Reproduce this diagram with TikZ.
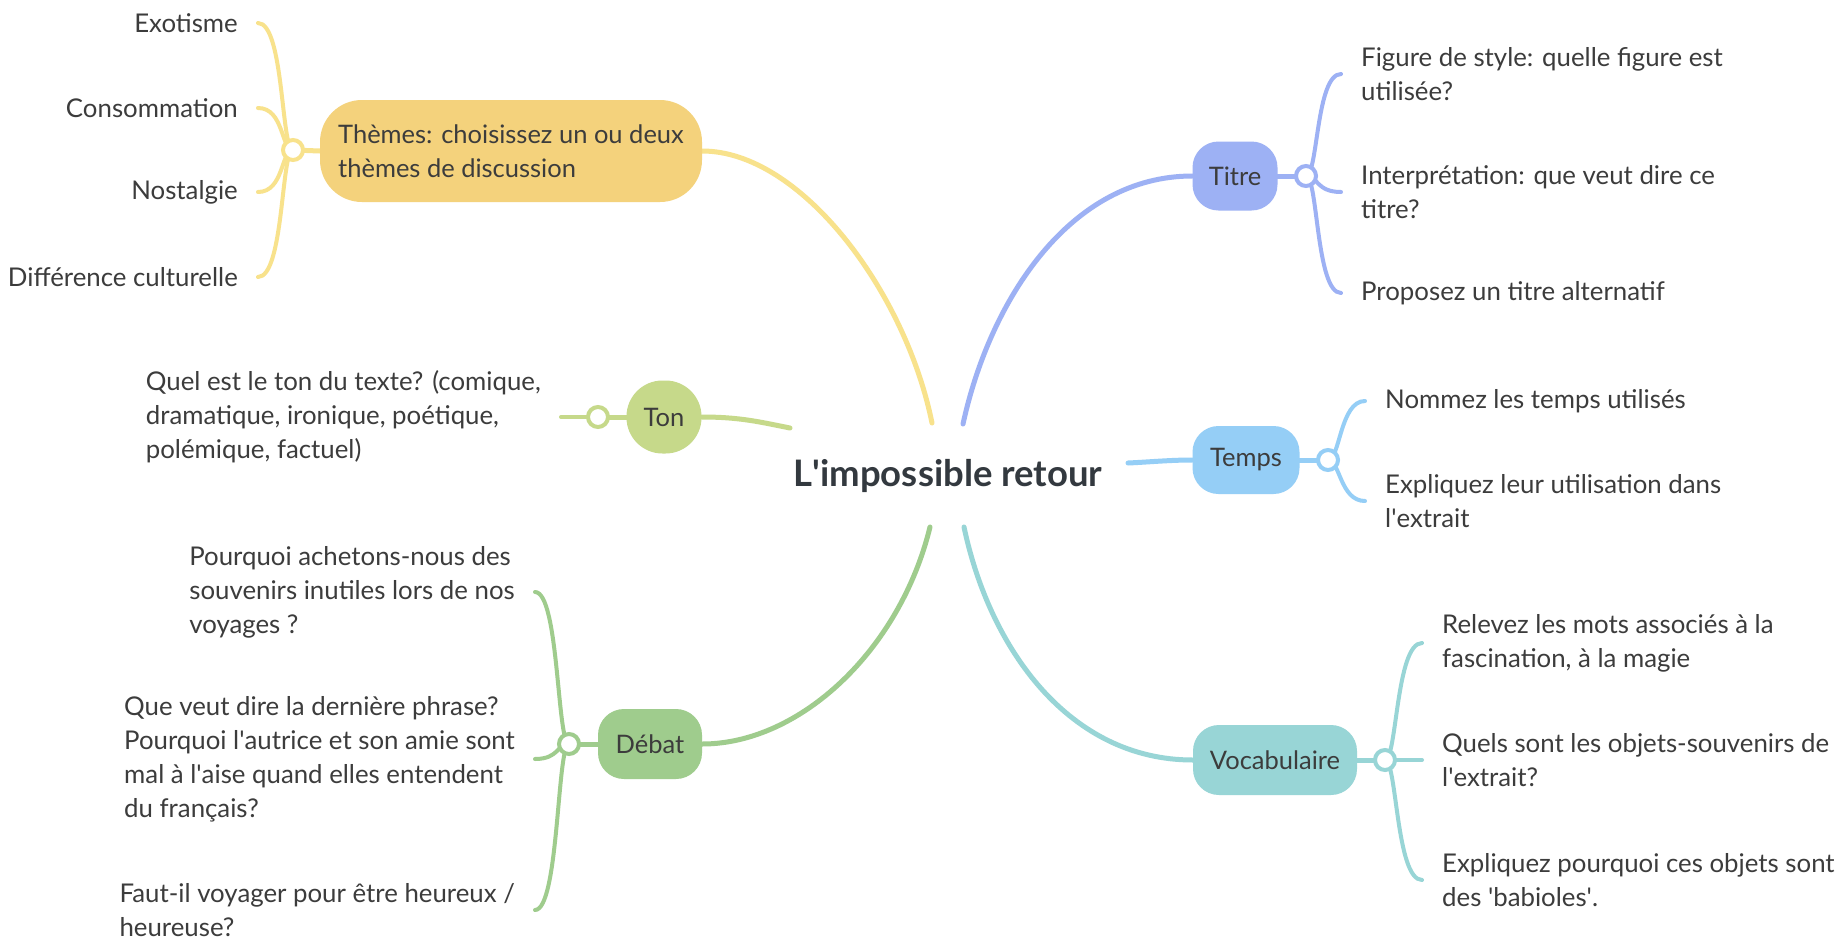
\documentclass[tikz,border=0pt]{standalone}
\usepackage{fontspec}
\setmainfont{Lato}
\newcommand{\myq}{\textquotesingle}
\definecolor{cTh}{HTML}{F4D27C}
\definecolor{lTh}{HTML}{F8E28C}
\definecolor{cTon}{HTML}{C6D98A}
\definecolor{cDb}{HTML}{9FCC8D}
\definecolor{cTi}{HTML}{9DB1F4}
\definecolor{cTe}{HTML}{95CEF6}
\definecolor{cVo}{HTML}{98D5D6}
\definecolor{txt}{HTML}{3C3C3C}
\definecolor{ttl}{HTML}{33393F}
\pgfdeclarelayer{bg}
\pgfsetlayers{bg,main}
\tikzset{
  topic/.style={rounded corners=26pt, inner sep=0pt, text=txt, font=\fontsize{25.5}{34}\selectfont, align=left},
  hub/.style={circle, draw, line width=4pt, fill=white, minimum size=20pt, inner sep=0pt},
  leaf/.style={inner xsep=20pt, inner ysep=0pt, text=txt, font=\fontsize{25.8}{34}\selectfont, align=left},
  conn/.style={line width=5pt, line cap=round},
  twig/.style={line width=4pt, line cap=round},
}
\begin{document}
\begin{tikzpicture}[x=1pt, y=-1pt]
\useasboundingbox (0,0) rectangle (1840,940);

% central topic
\node[text=ttl, font=\fontsize{36.5}{42}\bfseries\selectfont] (c) at (948,476) {L\myq impossible retour};
\coordinate (c-th) at (932,423);
\coordinate (c-ti) at (963,424);
\coordinate (c-ton) at (790,428);
\coordinate (c-te) at (1128,463);
\coordinate (c-db) at (930,527);
\coordinate (c-vo) at (964,527);

% main topics
\node[topic, fill=cTh, minimum width=382pt, minimum height=102pt, rounded corners=42pt] (th) at (511,151) {Thèmes: choisissez un ou deux\\thèmes de discussion};
\node[topic, fill=cTon, minimum width=75pt, minimum height=73pt, rounded corners=36pt] (ton) at (664,417) {Ton};
\node[topic, fill=cDb, minimum width=104pt, minimum height=70pt] (db) at (650,744) {Débat};
\node[topic, fill=cTi, minimum width=85pt, minimum height=69pt] (ti) at (1235,176) {Titre};
\node[topic, fill=cTe, minimum width=107pt, minimum height=68pt] (te) at (1246,460) {Temps};
\node[topic, fill=cVo, minimum width=164pt, minimum height=70pt] (vo) at (1275,760) {Vocabulaire};

% hubs
\node[hub, draw=lTh] (thhub) at (293,150) {};
\node[hub, draw=cTon] (tonhub) at (598,417) {};
\node[hub, draw=cDb] (dbhub) at (569,744) {};
\node[hub, draw=cTi] (tihub) at (1306,176) {};
\node[hub, draw=cTe] (tehub) at (1328,460) {};
\node[hub, draw=cVo] (vohub) at (1385,760) {};

% leaves, left side
\node[leaf, anchor=east] (ex) at (258,23) {Exotisme};
\node[leaf, anchor=east] (co) at (258,108) {Consommation};
\node[leaf, anchor=east] (no) at (258,192) {Nostalgie};
\node[leaf, anchor=east] (di) at (258,277) {Différence culturelle};
\node[leaf, anchor=east] (tonl) at (561,417) {Quel est le ton du texte? (comique,\\dramatique, ironique, poétique,\\polémique, factuel)};
\node[leaf, anchor=east] (db1) at (535,592) {Pourquoi achetons-nous des\\souvenirs inutiles lors de nos\\voyages ?};
\node[leaf, anchor=east] (db2) at (535,759) {Que veut dire la dernière phrase?\\Pourquoi l\myq autrice et son amie sont\\mal à l\myq aise quand elles entendent\\du français?};
\node[leaf, anchor=east] (db3) at (535,910) {Faut-il voyager pour être heureux /\\heureuse?};

% leaves, right side
\node[leaf, anchor=west] (ti1) at (1341,74) {Figure de style: quelle figure est\\utilisée?};
\node[leaf, anchor=west] (ti2) at (1341,192) {Interprétation: que veut dire ce\\titre?};
\node[leaf, anchor=west] (ti3) at (1341,293) {Proposez un titre alternatif};
\node[leaf, anchor=west] (te1) at (1365,401) {Nommez les temps utilisés};
\node[leaf, anchor=west] (te2) at (1365,501) {Expliquez leur utilisation dans\\l\myq extrait};
\node[leaf, anchor=west] (vo1) at (1422,643) {Relevez les mots associés à la\\fascination, à la magie};
\node[leaf, anchor=west] (vo2) at (1422,760) {Quels sont les objets-souvenirs de\\l\myq extrait?};
\node[leaf, anchor=west] (vo3) at (1422,880) {Expliquez pourquoi ces objets sont\\des \myq babioles\myq.};

\begin{pgfonlayer}{bg}
\fill[white] (0,0) rectangle (1840,940);
% main connectors
\draw[conn, draw=lTh] (th.east) .. controls (800,151) and (905,290) .. (c-th);
\draw[conn, draw=cTi] (c-ti) .. controls (990,300) and (1070,176) .. (ti.west);
\draw[conn, draw=cTon] (ton.east) .. controls (740,417) and (760,422) .. (c-ton);
\draw[conn, draw=cTe] (c-te) .. controls (1150,462) and (1170,460) .. (te.west);
\draw[conn, draw=cDb] (db.east) .. controls (800,744) and (900,650) .. (c-db);
\draw[conn, draw=cVo] (c-vo) .. controls (990,650) and (1070,760) .. (vo.west);
% hub stems
\draw[conn, draw=lTh] (thhub.center) -- (th.west);
\draw[conn, draw=cTon] (tonhub.center) -- (ton.west);
\draw[conn, draw=cDb] (dbhub.center) -- (db.west);
\draw[conn, draw=cTi] (tihub.center) -- (ti.east);
\draw[conn, draw=cTe] (tehub.center) -- (te.east);
\draw[conn, draw=cVo] (vohub.center) -- (vo.east);
% twigs left
\foreach \l in {ex,co,no,di}
  \draw[twig, draw=lTh] (thhub.center) .. controls +(-12,0) and +(26,0) .. (\l.east);
\draw[twig, draw=cTon] (tonhub.center) -- (tonl.east);
\foreach \l in {db1,db2,db3}
  \draw[twig, draw=cDb] (dbhub.center) .. controls +(-12,0) and +(24,0) .. (\l.east);
% twigs right
\foreach \l in {ti1,ti2,ti3}
  \draw[twig, draw=cTi] (tihub.center) .. controls +(12,0) and +(-25,0) .. (\l.west);
\foreach \l in {te1,te2}
  \draw[twig, draw=cTe] (tehub.center) .. controls +(12,0) and +(-25,0) .. (\l.west);
\foreach \l in {vo1,vo2,vo3}
  \draw[twig, draw=cVo] (vohub.center) .. controls +(12,0) and +(-26,0) .. (\l.west);
\end{pgfonlayer}
\end{tikzpicture}
\end{document}
